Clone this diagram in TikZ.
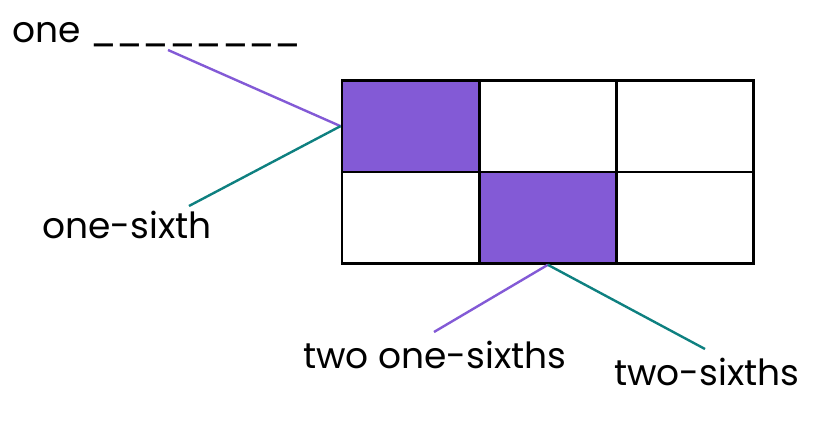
\documentclass[tikz,border=0pt]{standalone}
\usepackage{fontspec}
\setmainfont{Poppins}
\definecolor{shade}{HTML}{835AD6}
\definecolor{tealline}{HTML}{0E8080}
\begin{document}
\begin{tikzpicture}[x=1pt,y=-1pt,
  cell/.style={draw=black,line width=2.8pt,minimum width=137.3pt,minimum height=91.5pt,inner sep=0pt,anchor=north west,fill=white},
  filled/.style={cell,fill=shade},
  lab/.style={anchor=base west,inner sep=0pt,font=\fontsize{36}{42}\selectfont},
  pline/.style={draw=shade,line width=2.4pt},
  tline/.style={draw=tealline,line width=2.4pt}]
\useasboundingbox (0,0) rectangle (828,436);
% grid
\node[filled] (c11) at (340.5,79) {};
\node[cell]   (c12) at (477.8,79) {};
\node[cell]   (c13) at (615.1,79) {};
\node[cell]   (c21) at (340.5,170.5) {};
\node[filled] (c22) at (477.8,170.5) {};
\node[cell]   (c23) at (615.1,170.5) {};
% labels
\node[lab] (one) at (12,43) {one \_\_\_\_\_\_\_\_};
\node[lab] (sixth) at (42,238) {one-sixth};
\node[lab] (twoone) at (303,368) {two one-sixths};
\node[lab] (twosix) at (614,385) {two-sixths};
% connector ends
\coordinate (a) at (168,50);
\coordinate (b) at (189,206);
\coordinate (c) at (434,332);
\coordinate (d) at (705,349);
\draw[pline] (a) -- (c11.west);
\draw[tline] (c11.west) -- (b);
\draw[pline] (c22.south) -- (c);
\draw[tline] (c22.south) -- (d);
\end{tikzpicture}
\end{document}
